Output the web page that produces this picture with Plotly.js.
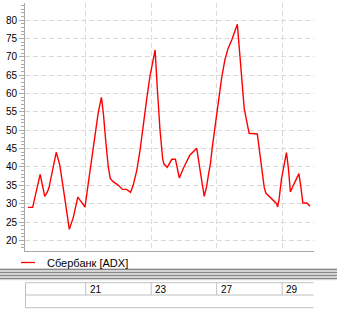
<!DOCTYPE html>
<html>
<head>
<meta charset="utf-8">
<script src="https://cdn.plot.ly/plotly-3.0.1.min.js"></script>
<style>
html,body{margin:0;padding:0;background:#fff;}
#chart{width:337px;height:316px;}
</style>
</head>
<body>
<div id="chart"></div>
<script>
// Time in trading days (0 = day "21"), ADX values
const dayPos = [-1.76,-1.62,-1.39,-1.25,-1.17,-1.12,-0.90,-0.79,-0.69,-0.58,-0.50,-0.38,-0.24,-0.15,-0.02,
  0.08,0.18,0.28,0.38,0.48,0.54,0.61,0.69,0.75,0.84,1.00,1.12,1.25,1.37,1.45,1.56,1.66,1.76,1.86,1.96,
  2.06,2.12,2.19,2.27,2.35,2.39,2.49,2.63,2.74,2.86,2.98,3.18,3.39,3.47,3.54,3.62,3.69,3.75,3.81,3.86,
  3.95,4.05,4.15,4.25,4.35,4.46,4.56,4.63,4.69,4.76,4.84,4.92,4.99,5.24,5.30,5.37,5.45,5.50,5.63,5.75,
  5.83,5.86,5.90,5.98,6.05,6.13,6.19,6.25,6.34,6.45,6.51,6.57,6.63,6.75,6.85];
const adx = [29,29,38,32,33.2,34.4,44,40.5,34.6,27.3,23,26.2,31.8,30.7,29.1,
  35.6,41.9,48.2,54.6,59,54.6,47.3,40,36.9,36,35,33.9,33.9,33.1,35,39.1,44.6,51.9,58.3,64.6,
  69.4,71.9,61,50,42.3,40.8,39.9,42.1,42.1,37,39.6,43.2,45.1,41,36.4,32,34.6,38,41,45,
  51.4,57.8,64.2,69.2,72.4,74.6,76.9,78.9,72.4,65.1,56,52.3,49.2,49,45,39.6,34.5,32.9,31.7,30.7,
  30,29.1,30.9,36.9,40.5,43.9,39.6,33.2,35,36.9,38.2,34.6,30.2,30.2,29.3];
const dayTicks = [0,2,4,6];
const dayLabels = ['21','23','27','29'];
const seriesName = 'Сбербанк [ADX]';

const FONT = {family:'Liberation Sans, Arial, sans-serif', size:10, color:'#000'};
const AX = '#a8a8a8';
const GRID = '#d9d9d9';
const yRange = [17.1, 84.7];
const xRange = [-1.853, 6.971];

const H = 248; // plot height px
const W = 289; // plot width px
const py = p => (251 - p) / H;   // pixel y -> paper
const px = p => (p - 25) / W;    // pixel x -> paper

const shapes = [];
// splitter band
shapes.push({type:'rect', xref:'paper', yref:'paper', x0:px(0), x1:px(337), y0:py(280.5), y1:py(268), fillcolor:'#eeeeee', line:{width:0}, layer:'above'});
[269.5,272.5,275.5,278.5].forEach(p=>{
  shapes.push({type:'line', xref:'paper', yref:'paper', x0:px(0), x1:px(337), y0:py(p), y1:py(p), line:{color:'#888888', width:1.3}, layer:'above'});
});
// table
const TC = '#c0c0c0';
[282.7,295,307.7].forEach(p=>{
  shapes.push({type:'line', xref:'paper', yref:'paper', x0:px(25.5), x1:px(313.5), y0:py(p), y1:py(p), line:{color:TC, width:1}, layer:'above'});
});
shapes.push({type:'line', xref:'paper', yref:'paper', x0:px(25.5), x1:px(25.5), y0:py(282.7), y1:py(307.7), line:{color:TC, width:1}, layer:'above'});
dayTicks.forEach(t=>{
  shapes.push({type:'line', xref:'x', yref:'paper', x0:t, x1:t, y0:py(282.7), y1:py(295), line:{color:TC, width:1}, layer:'above'});
});
// legend sample line
shapes.push({type:'line', xref:'paper', yref:'paper', x0:px(21), x1:px(35), y0:py(262.5), y1:py(262.5), line:{color:'#ff0000', width:1.3}, layer:'above'});

const annotations = [];
annotations.push({xref:'paper', yref:'paper', x:px(45), y:py(262.5), text:seriesName, showarrow:false, xanchor:'left', yanchor:'middle', font:{family:FONT.family, size:11, color:'#000'}});
dayTicks.forEach((t,i)=>{
  annotations.push({xref:'x', yref:'paper', x:t, y:py(289), text:dayLabels[i], showarrow:false, xanchor:'left', yanchor:'middle', xshift:2, font:FONT});
});

const yCommon = {
  range: yRange, tick0:0, dtick:5, ticks:'outside', ticklen:5, tickcolor:AX,
  showline:true, linecolor:AX, linewidth:1, zeroline:false, tickfont:FONT,
  minor:{dtick:1, ticks:'outside', ticklen:3, tickcolor:AX, showgrid:false}
};

const data = [{
  x: dayPos, y: adx, type:'scatter', mode:'lines', name: seriesName,
  line:{color:'#ff0000', width:1.4}, showlegend:false, hoverinfo:'skip'
}];

const layout = {
  width:337, height:316,
  margin:{l:25, r:23, t:3, b:65},
  paper_bgcolor:'#fff', plot_bgcolor:'#fff',
  showlegend:false,
  xaxis:{range:xRange, tickvals:dayTicks, showticklabels:false, ticks:'',
    showgrid:true, gridcolor:GRID, griddash:'5px,3px', gridwidth:1,
    showline:true, linecolor:AX, zeroline:false},
  yaxis:Object.assign({}, yCommon, {side:'left', showgrid:true, gridcolor:GRID, griddash:'5px,3px', gridwidth:1}),
  yaxis2:Object.assign({}, yCommon, {side:'right', overlaying:'y', showgrid:false}),
  shapes: shapes,
  annotations: annotations
};

Plotly.newPlot('chart', data, layout, {staticPlot:true, displayModeBar:false});
</script>
</body>
</html>
